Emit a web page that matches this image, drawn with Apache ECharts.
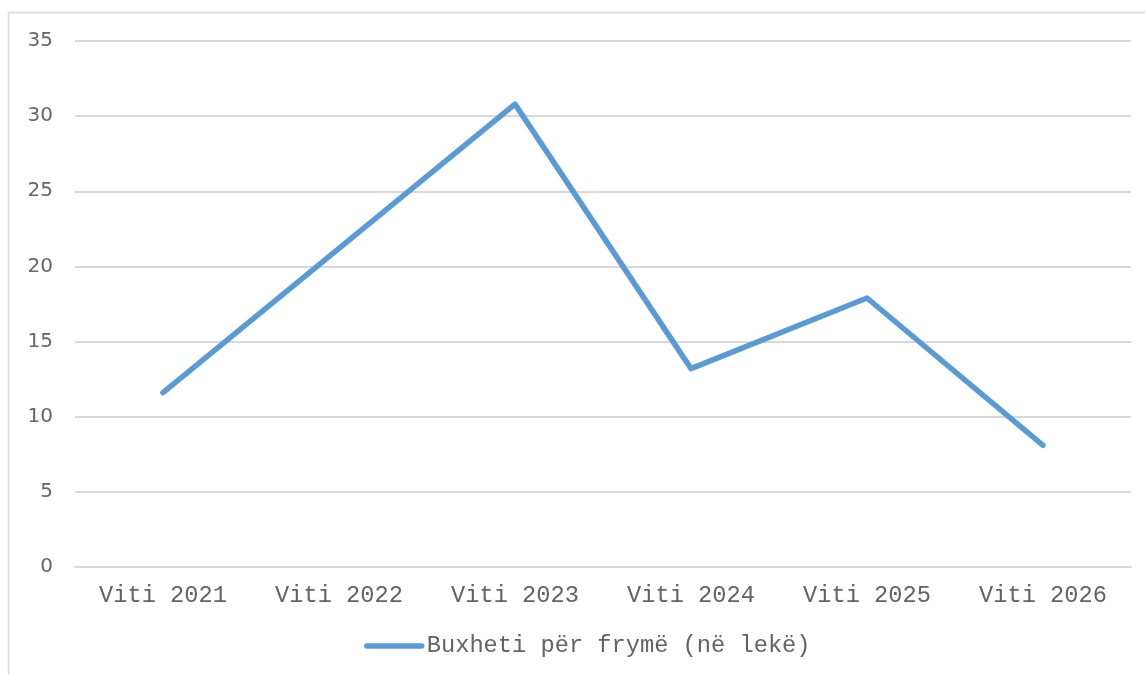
<!DOCTYPE html>
<html>
<head>
<meta charset="utf-8">
<script src="https://cdn.jsdelivr.net/npm/echarts@6/dist/echarts.min.js"></script>
<style>
  html, body { margin: 0; padding: 0; background: #ffffff; }
  #chart { width: 1145px; height: 675px; }
</style>
</head>
<body>
<div id="chart"></div>
<script>
// Per-capita budget by year (in lek)
const years = ['Viti 2021', 'Viti 2022', 'Viti 2023', 'Viti 2024', 'Viti 2025', 'Viti 2026'];
const budgetPerCapita = [11.6, 21.2, 30.8, 13.2, 17.9, 8.1];
const seriesName = 'Buxheti për frymë (në lekë)';
const yTicks = { min: 0, max: 35, interval: 5 };

const chart = echarts.init(document.getElementById('chart'), null, { renderer: 'canvas' });

const textGray = '#636363';
const gridGray = '#D9D9D9';
const lineBlue = '#5B9BD5';
const mono = '"Liberation Mono", "Courier New", monospace';

chart.setOption({
  animation: false,
  backgroundColor: '#ffffff',
  graphic: [
    {
      // outer chart-area frame
      type: 'rect',
      shape: { x: 8.5, y: 12.5, width: 1160, height: 700 },
      style: { fill: 'none', stroke: gridGray, lineWidth: 1.5 },
      silent: true
    }
  ],
  grid: { left: 75, right: 14, top: 41, bottom: 108, containLabel: false },
  legend: {
    data: [seriesName],
    left: 364,
    top: 634,
    padding: 0,
    orient: 'horizontal',
    itemWidth: 55,
    itemHeight: 24,
    itemGap: 10,
    itemStyle: { opacity: 0 },
    lineStyle: { width: 5.5, cap: 'round' },
    textStyle: { fontFamily: mono, fontSize: 23.7, color: textGray }
  },
  xAxis: {
    type: 'category',
    data: years,
    boundaryGap: true,
    axisLine: { show: true, lineStyle: { color: gridGray, width: 2 } },
    axisTick: { show: false },
    axisLabel: { fontFamily: mono, fontSize: 23.7, color: textGray, margin: 17 }
  },
  yAxis: {
    type: 'value',
    min: yTicks.min,
    max: yTicks.max,
    interval: yTicks.interval,
    axisLine: { show: false },
    axisTick: { show: false },
    splitLine: { lineStyle: { color: gridGray, width: 2 } },
    axisLabel: { fontFamily: '"DejaVu Sans", sans-serif', fontSize: 20, color: '#666666', margin: 22 }
  },
  series: [
    {
      name: seriesName,
      type: 'line',
      data: budgetPerCapita,
      symbol: 'none',
      lineStyle: { color: lineBlue, width: 5.5, cap: 'round', join: 'round' },
      itemStyle: { color: lineBlue }
    }
  ]
});
</script>
</body>
</html>
